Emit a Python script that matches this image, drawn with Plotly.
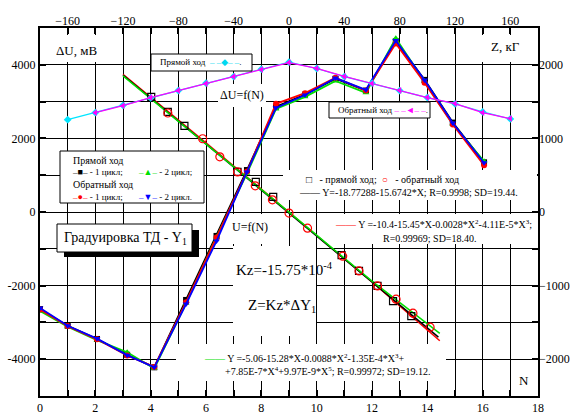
import plotly.graph_objects as go

# ---------------- data ----------------
# ΔU = f(N) zig-zag, four runs
n_zig = [0, 1.0, 2.06, 3.15, 4.13, 5.28, 6.38, 7.48, 8.53, 9.58, 10.68, 11.78, 12.86, 13.9, 14.92, 16.05]
du_fwd1 = [-2640, -3090, -3450, -3880, -4220, -2390, -650, 1140, 2860, 3190, 3620, 3300, 4640, 3590, 2430, 1350]
du_fwd2 = [-2690, -3120, -3480, -3810, -4250, -2480, -680, 1050, 2800, 3130, 3560, 3240, 4720, 3560, 2390, 1380]
du_rev1 = [-2650, -3100, -3460, -3900, -4210, -2450, -690, 1100, 2940, 3230, 3650, 3300, 4580, 3510, 2380, 1270]
du_rev2 = [-2610, -3090, -3440, -3890, -4220, -2500, -790, 1090, 2830, 3180, 3640, 3320, 4660, 3590, 2420, 1340]

# U = f(N) measured points
n_fwd_pts = [4.02, 4.62, 5.22, 7.14, 7.80, 8.43, 10.90, 11.53, 12.20, 12.76, 13.42]
u_fwd_pts = [3130, 2720, 2340, 1090, 820, 410, -1170, -1600, -2010, -2420, -2830]
n_rev_pts = [4.62, 5.88, 6.50, 7.14, 7.78, 8.40, 9.00, 9.67, 10.94, 11.53, 12.20, 12.87, 13.48, 14.10]
u_rev_pts = [2690, 1990, 1500, 1090, 710, 330, -30, -440, -1200, -1600, -2010, -2370, -2750, -3130]

# fitted curves
n_fit_lin = [3.0, 14.4]
u_fit_lin = [3720, -3400]
n_fit = [3.0, 6.0, 9.0, 12.0, 14.45]
u_fit_cub = [3740, 1880, -10, -1900, -3500]
u_fit_p5 = [3700, 1860, -5, -1880, -3300]

# U vs Z (top / right axes)
z_fwd = [-160, -140, -120, -100, -80, -60, -40, -20, 0, 20, 40, 60, 80, 100, 120, 140, 160]
u_fwd = [1255, 1350, 1450, 1550, 1650, 1750, 1840, 1940, 2035, 1950, 1840, 1750, 1650, 1555, 1470, 1360, 1265]
z_rev = [-140, -120, -100, -80, -60, -40, -20, 0, 20, 40, 60, 80, 100, 120, 140, 160]
u_rev = [1350, 1445, 1555, 1650, 1745, 1842, 1937, 2030, 1951, 1842, 1746, 1651, 1555, 1473, 1350, 1269]

# axis ticks
n_ticks = list(range(0, 19))
n_labels = [str(v) if v % 2 == 0 else "" for v in n_ticks]
u_ticks = list(range(-5000, 5001, 1000))
u_labels = [str(v) if v % 2000 == 0 else "" for v in u_ticks]
z_ticks = [-160, -120, -80, -40, 0, 40, 80, 120, 160]
r_ticks = [-2000, -1000, 0, 1000, 2000]

N_RANGE = [0, 18]
U_RANGE = [-5000, 5000]

FONT = "Liberation Serif, DejaVu Serif, serif"
GREEN = "#00e000"

fig = go.Figure()

# fits
fig.add_trace(go.Scatter(x=n_fit, y=u_fit_cub, mode="lines", line=dict(color="red", width=1.5)))
fig.add_trace(go.Scatter(x=n_fit_lin, y=u_fit_lin, mode="lines", line=dict(color="black", width=1.5)))
fig.add_trace(go.Scatter(x=n_fit, y=u_fit_p5, mode="lines", line=dict(color=GREEN, width=1.5)))
# measured points
fig.add_trace(go.Scatter(x=n_fwd_pts, y=u_fwd_pts, mode="markers",
                         marker=dict(symbol="square-open", size=7, color="black", line=dict(width=1.2))))
fig.add_trace(go.Scatter(x=n_rev_pts, y=u_rev_pts, mode="markers",
                         marker=dict(symbol="circle-open", size=8, color="red", line=dict(width=1.2))))
# zig-zag
for ys, col, sym in [(du_fwd1, "black", "square"), (du_fwd2, GREEN, "triangle-up"),
                     (du_rev1, "red", "circle"), (du_rev2, "blue", "triangle-down")]:
    fig.add_trace(go.Scatter(x=n_zig, y=ys, mode="lines+markers",
                             line=dict(color=col, width=1.8),
                             marker=dict(symbol=sym, size=6, color=col)))
# U vs Z
fig.add_trace(go.Scatter(x=z_fwd, y=u_fwd, xaxis="x2", yaxis="y2", mode="lines+markers",
                         line=dict(color="#00e5ff", width=1.2),
                         marker=dict(symbol="diamond", size=6, color="#00e5ff")))
fig.add_trace(go.Scatter(x=z_rev, y=u_rev, xaxis="x2", yaxis="y2", mode="lines+markers",
                         line=dict(color="#ff00ff", width=1.2),
                         marker=dict(symbol="triangle-left", size=6, color="#ff00ff")))

# ---------------- layout helpers ----------------
L, R, T, B = 40, 538, 28, 396
def px(x):
    return (x - L) / (R - L)
def py(y):
    return (B - y) / (B - T)

shapes = []
def box(x0, y0, x1, y1, border=False, fill="white"):
    shapes.append(dict(type="rect", xref="paper", yref="paper",
                       x0=px(x0), x1=px(x1), y0=py(y1), y1=py(y0),
                       fillcolor=fill, layer="above",
                       line=dict(color="black", width=1 if border else 0)))

annots = []
def txt(x, y, s, size=10, anchor="left", color="black"):
    annots.append(dict(xref="paper", yref="paper", x=px(x), y=py(y), text=s,
                       showarrow=False, xanchor=anchor, yanchor="middle",
                       font=dict(family=FONT, size=size, color=color)))

# white backgrounds
box(41, 35, 113, 62)            # ΔU, мВ
box(468, 35, 537, 62)           # Z, кГ
box(218, 84, 266, 107)          # ΔU=f(N)
box(231, 214, 282, 244)         # U=f(N)
box(233, 246, 316, 336)         # Kz, Z=
box(283, 170, 537, 200)         # stats
box(332, 214, 537, 244)         # red formula
box(176, 344, 446, 381)         # green formula
# legend boxes
box(151, 54, 252, 71, border=True)
box(329, 102, 430, 118, border=True)
box(60, 151, 204, 203, border=True)
# title with shadow
box(64, 230, 199, 257, fill="black")
box(57, 224, 192, 252, border=True)

txt(76, 50, "ΔU, мВ", 13, "center")
txt(505, 47, "Z, кГ", 13, "center")
txt(524, 380, "N", 13, "center")
txt(242, 95, "ΔU=f(N)", 12, "center")
txt(250, 227, "U=f(N)", 12, "center")
txt(284, 269, "Kz=-15.75*10<sup>-4</sup>", 15, "center")
txt(282, 306, "Z=Kz*ΔY<sub>1</sub>", 15, "center")
txt(125, 238, "Градуировка ТД - Y<sub>1</sub>", 14, "center")

txt(158, 62, "Прямой ход  <span style='color:#00d8f0'>– –◆– –</span>.", 9)
txt(336, 110, "Обратный ход <span style='color:#ff00ff'>– –◄– –</span>.", 9)

txt(71, 160, "Прямой ход", 10)
txt(70, 172, "<span style='color:black'>–■–</span> - 1 цикл;", 9)
txt(136, 172, "<span style='color:#00e000'>–▲–</span> - 2 цикл;", 9)
txt(71, 184, "Обратный ход", 10)
txt(70, 197, "<span style='color:red'>–●–</span> - 1 цикл;", 9)
txt(136, 197, "<span style='color:blue'>–▼–</span> - 2 цикл.", 9)

txt(304, 179, "□   - прямой ход;  <span style='color:red'>○</span>   - обратный ход", 10)
txt(297, 192, "—— Y=-18.77288-15.6742*X; R=0.9998; SD=19.44.", 10)
txt(333, 224, "<span style='color:red'>——</span> Y =-10.4-15.45*X-0.0028*X<sup>2</sup>-4.11E-5*X<sup>3</sup>;", 10)
txt(430, 238, "R=0.99969; SD=18.40.", 10, "center")
txt(202, 358, "<span style='color:#00e000'>——</span> Y =-5.06-15.28*X-0.0088*X<sup>2</sup>-1.35E-4*X<sup>3</sup>+", 10)
txt(223, 371, "+7.85E-7*X<sup>4</sup>+9.97E-9*X<sup>5</sup>; R=0.99972; SD=19.12.", 10)

tickfont = dict(family=FONT, size=12, color="black")
fig.update_layout(
    width=571, height=416,
    margin=dict(l=L, r=571 - R, t=T, b=416 - B, autoexpand=False),
    paper_bgcolor="white", plot_bgcolor="white",
    showlegend=False,
    font=dict(family=FONT),
    xaxis=dict(range=N_RANGE, tickmode="array", tickvals=n_ticks, ticktext=n_labels,
               showgrid=True, gridcolor="black", gridwidth=1,
               ticks="inside", ticklen=6, tickwidth=2, tickcolor="black",
               showline=True, linewidth=2, linecolor="black", mirror="ticks",
               zeroline=False, tickfont=tickfont, automargin=False),
    yaxis=dict(range=U_RANGE, tickmode="array", tickvals=u_ticks, ticktext=u_labels,
               showgrid=True, gridcolor="black", gridwidth=1,
               ticks="inside", ticklen=6, tickwidth=2, tickcolor="black",
               showline=True, linewidth=2, linecolor="black", mirror="ticks",
               zeroline=False, tickfont=tickfont, automargin=False),
    xaxis2=dict(range=[-180, 180], tickmode="array", tickvals=z_ticks, overlaying="x", side="top",
                showgrid=False, zeroline=False, showline=False, ticks="",
                tickfont=tickfont, automargin=False),
    yaxis2=dict(range=[-2500, 2500], tickmode="array", tickvals=r_ticks, overlaying="y", side="right",
                showgrid=False, zeroline=False, showline=False, ticks="",
                tickfont=tickfont, automargin=False),
    shapes=shapes,
    annotations=annots,
)

fig.write_html("out.html")
